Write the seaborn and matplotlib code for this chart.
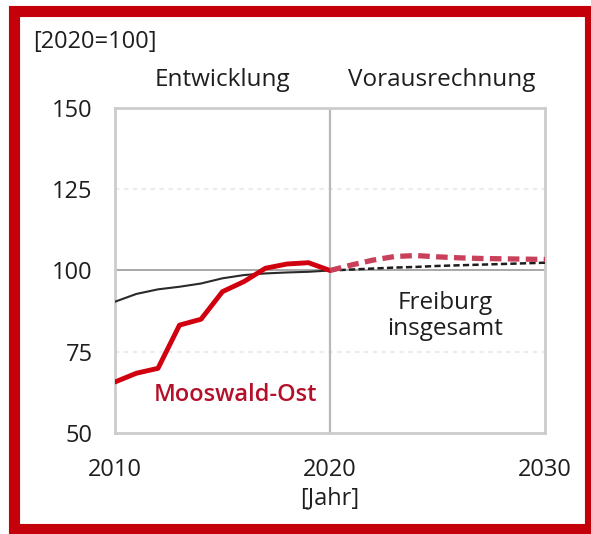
import matplotlib
matplotlib.use("Agg")
import matplotlib.pyplot as plt
from matplotlib.patches import Rectangle
import pandas as pd
import seaborn as sns

# Index values, 2020 = 100
years_hist = [2010, 2011, 2012, 2013, 2014, 2015, 2016, 2017, 2018, 2019, 2020]
mooswald_hist = [65.7, 68.4, 69.9, 83.2, 85.0, 93.5, 96.6, 100.7, 102.0, 102.4, 100.0]
freiburg_hist = [90.4, 92.8, 94.2, 95.0, 96.0, 97.6, 98.6, 99.1, 99.4, 99.6, 100.0]

years_proj = [2020, 2021, 2022, 2023, 2024, 2025, 2026, 2027, 2028, 2029, 2030]
mooswald_proj = [100.0, 101.7, 103.2, 104.3, 104.6, 104.2, 103.9, 103.7, 103.6, 103.5, 103.4]
freiburg_proj = [100.0, 100.3, 100.6, 100.9, 101.1, 101.4, 101.6, 101.8, 102.0, 102.2, 102.4]

y_ticks = [50, 75, 100, 125, 150]
x_ticks = [2010, 2020, 2030]

hist = pd.DataFrame({"Jahr": years_hist, "Mooswald-Ost": mooswald_hist,
                     "Freiburg": freiburg_hist})
proj = pd.DataFrame({"Jahr": years_proj, "Mooswald-Ost": mooswald_proj,
                     "Freiburg": freiburg_proj})

sns.set_theme(style="white")
plt.rcParams["font.family"] = ["Open Sans", "DejaVu Sans"]

W, H = 591, 534
fig = plt.figure(figsize=(W / 100, H / 100), dpi=100)
ax = fig.add_axes([115 / W, 1 - 433 / H, (545 - 115) / W, (433 - 108) / H])

text_col = "#1e1e1e"
red = "#d0000f"
red_proj = "#c8405a"
fs = 17

# reference lines
for yv in (75, 125):
    ax.axhline(yv, color="#ececec", lw=1.6, ls=(0, (2, 2)), zorder=0)
ax.axhline(100, color="#a8a8a8", lw=1.4, zorder=1)
ax.axvline(2020, color="#b8b8b8", lw=1.6, zorder=1)

sns.lineplot(data=hist, x="Jahr", y="Freiburg", ax=ax, color="#2a2a2a",
             lw=1.5, zorder=3)
sns.lineplot(data=proj, x="Jahr", y="Freiburg", ax=ax, color="#1e1e1e",
             lw=1.8, zorder=3, linestyle=(0, (2.5, 1.3)))
sns.lineplot(data=hist, x="Jahr", y="Mooswald-Ost", ax=ax, color=red,
             lw=3.5, zorder=4)
sns.lineplot(data=proj, x="Jahr", y="Mooswald-Ost", ax=ax, color=red_proj,
             lw=3.8, zorder=4, linestyle=(0, (2.2, 1.2)))

ax.set_xlim(2010, 2030)
ax.set_ylim(50, 150)
ax.set_xticks(x_ticks)
ax.set_yticks(y_ticks)
ax.tick_params(axis="both", length=0, labelsize=fs, colors=text_col)
ax.tick_params(axis="y", pad=16)
ax.tick_params(axis="x", pad=18)
ax.set_xlabel("[Jahr]", fontsize=fs, color=text_col, labelpad=3)
ax.set_ylabel("")
for sp in ax.spines.values():
    sp.set_color("#cccccc")
    sp.set_linewidth(2)

ax.text(2015.6, 61.7, "Mooswald-Ost", color="#b5102a", fontsize=fs,
        fontweight="semibold", ha="center", va="center")
ax.text(2025.35, 86, "Freiburg\ninsgesamt", color=text_col, fontsize=fs + 0.5,
        ha="center", va="center", linespacing=1.1)
ax.text(2015, 158.6, "Entwicklung", color=text_col, fontsize=fs + 0.5,
        ha="center", va="center", clip_on=False)
ax.text(2025.2, 158.6, "Vorausrechnung", color=text_col, fontsize=fs + 0.5,
        ha="center", va="center", clip_on=False)
fig.text(33 / W, 1 - 42 / H, "[2020=100]", color=text_col, fontsize=fs,
         ha="left", va="center")

# red frame around the whole figure
fig.patches.append(Rectangle((14.5 / W, 1 - 528.5 / H), (589.5 - 14.5) / W,
                             (528.5 - 11) / H, transform=fig.transFigure,
                             fill=False, edgecolor="#c4000b", lw=8))

fig.savefig("out.png", dpi=100, facecolor="white")
